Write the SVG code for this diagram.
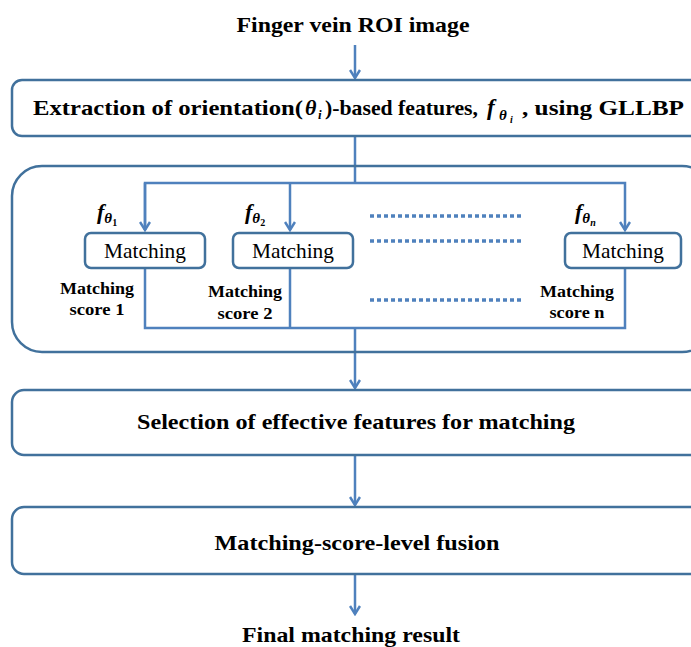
<svg xmlns="http://www.w3.org/2000/svg" width="691" height="647" viewBox="0 0 691 647">
<defs>
<style>
.box{fill:#fff;stroke:#41719C;stroke-width:2.5}
.ln{fill:none;stroke:#4F81BD;stroke-width:2.5}
.dot{fill:none;stroke:#4F81BD;stroke-width:3.5;stroke-dasharray:4 3}
text{font-family:'Liberation Serif','DejaVu Serif',serif;fill:#000}
.t{font-weight:bold}
.m{font-size:21px}
.s{font-weight:bold;font-size:17px}
.mi{font-style:italic}
</style>
<marker id="ah" markerWidth="12" markerHeight="12" viewBox="0 0 12 12" refX="10" refY="6" orient="auto" markerUnits="userSpaceOnUse">
<path d="M2,1 L10,6 L2,11" fill="none" stroke="#4F81BD" stroke-width="2.5"/>
</marker>
</defs>
<rect width="691" height="647" fill="#fff"/>

<g id="connectors">
<line class="ln" x1="355" y1="45" x2="355" y2="78" marker-end="url(#ah)"/>
<line class="ln" x1="355" y1="136" x2="355" y2="183"/>
<polyline class="ln" points="145,230 145,183 625,183 625,230" marker-end="url(#ah)"/>
<line class="ln" x1="145" y1="183" x2="145" y2="230" marker-end="url(#ah)"/>
<line class="ln" x1="290" y1="183" x2="290" y2="230" marker-end="url(#ah)"/>
<polyline class="ln" points="145,268 145,328 625,328 625,268"/>
<line class="ln" x1="290" y1="268" x2="290" y2="328"/>
<line class="ln" x1="355" y1="328" x2="355" y2="388" marker-end="url(#ah)"/>
<line class="ln" x1="355" y1="455" x2="355" y2="505" marker-end="url(#ah)"/>
<line class="ln" x1="355" y1="574" x2="355" y2="614" marker-end="url(#ah)"/>
<line class="dot" x1="370" y1="216" x2="522" y2="216"/>
<line class="dot" x1="370" y1="241" x2="522" y2="241"/>
<line class="dot" x1="370" y1="300" x2="522" y2="300"/>
</g>

<g id="input">
<text class="t" x="353" y="32" font-size="22" text-anchor="middle" textLength="233" lengthAdjust="spacingAndGlyphs">Finger vein ROI image</text>
</g>

<g id="extraction">
<rect class="box" x="12" y="80" width="700" height="56" rx="10"/>
<text class="t" x="33" y="115" font-size="22" textLength="270" lengthAdjust="spacingAndGlyphs">Extraction of orientation(</text>
<text class="t mi" x="305" y="115" font-size="22">θ</text>
<text class="t mi" x="318" y="119" font-size="13">i</text>
<text class="t" x="325" y="115" font-size="22" textLength="153" lengthAdjust="spacingAndGlyphs">)-based features,</text>
<text class="t mi" x="487" y="115" font-size="23">f</text>
<text class="t mi" x="499" y="120" font-size="15">θ</text>
<text class="t mi" x="510" y="123" font-size="10">i</text>
<text class="t" x="522" y="115" font-size="22" textLength="162" lengthAdjust="spacingAndGlyphs">, using GLLBP</text>
</g>

<g id="matching-group">
<rect x="12" y="166" width="700" height="186" rx="30" fill="none" stroke="#41719C" stroke-width="2.5"/>
</g>

<g id="match1">
<text class="t mi" x="97" y="219" font-size="22">f<tspan font-size="15" dy="4">θ</tspan><tspan font-size="10" dy="3" font-style="normal">1</tspan></text>
<rect class="box" x="85" y="233" width="120" height="35" rx="6"/>
<text class="m" x="145" y="258" text-anchor="middle" textLength="82" lengthAdjust="spacingAndGlyphs">Matching</text>
<text class="s" x="97" y="294" text-anchor="middle" textLength="74" lengthAdjust="spacingAndGlyphs">Matching</text>
<text class="s" x="97" y="315" text-anchor="middle" textLength="55" lengthAdjust="spacingAndGlyphs">score 1</text>
</g>

<g id="match2">
<text class="t mi" x="245" y="219" font-size="22">f<tspan font-size="15" dy="4">θ</tspan><tspan font-size="10" dy="3" font-style="normal">2</tspan></text>
<rect class="box" x="233" y="233" width="120" height="35" rx="6"/>
<text class="m" x="293" y="258" text-anchor="middle" textLength="82" lengthAdjust="spacingAndGlyphs">Matching</text>
<text class="s" x="245" y="297" text-anchor="middle" textLength="74" lengthAdjust="spacingAndGlyphs">Matching</text>
<text class="s" x="245" y="319" text-anchor="middle" textLength="55" lengthAdjust="spacingAndGlyphs">score 2</text>
</g>

<g id="matchn">
<text class="t mi" x="575" y="219" font-size="22">f<tspan font-size="15" dy="4">θ</tspan><tspan font-size="10" dy="3">n</tspan></text>
<rect class="box" x="565" y="233" width="116" height="35" rx="6"/>
<text class="m" x="623" y="258" text-anchor="middle" textLength="82" lengthAdjust="spacingAndGlyphs">Matching</text>
<text class="s" x="577" y="297" text-anchor="middle" textLength="74" lengthAdjust="spacingAndGlyphs">Matching</text>
<text class="s" x="577" y="318" text-anchor="middle" textLength="55" lengthAdjust="spacingAndGlyphs">score n</text>
</g>

<g id="selection">
<rect class="box" x="12" y="390" width="700" height="65" rx="12"/>
<text class="t" x="356" y="429" font-size="22" text-anchor="middle" textLength="438" lengthAdjust="spacingAndGlyphs">Selection of effective features for matching</text>
</g>

<g id="fusion">
<rect class="box" x="12" y="507" width="700" height="67" rx="12"/>
<text class="t" x="357" y="550" font-size="22" text-anchor="middle" textLength="285" lengthAdjust="spacingAndGlyphs">Matching-score-level fusion</text>
</g>

<g id="output">
<text class="t" x="351" y="642" font-size="22" text-anchor="middle" textLength="218" lengthAdjust="spacingAndGlyphs">Final matching result</text>
</g>
</svg>
